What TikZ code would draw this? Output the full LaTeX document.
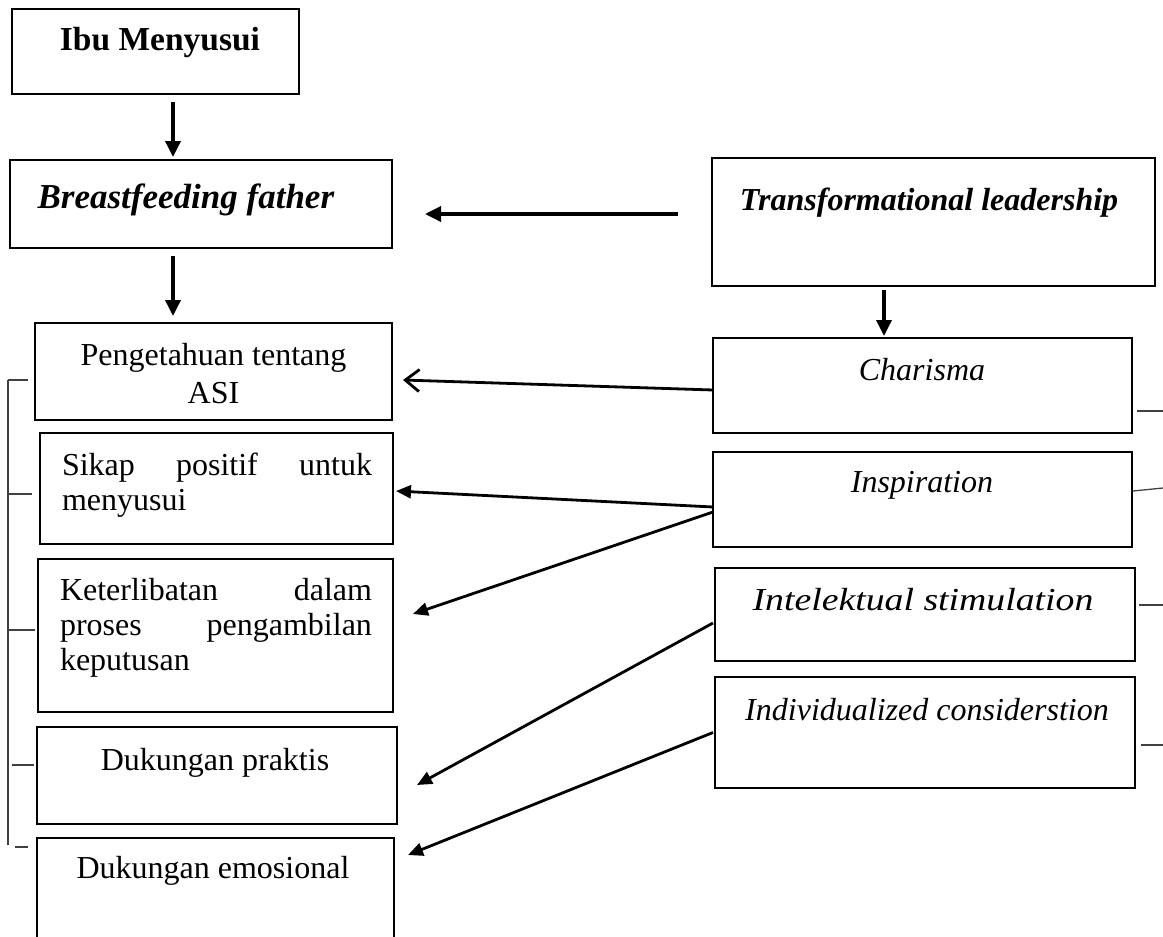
\documentclass[tikz,border=0pt]{standalone}
\usepackage{fontspec}
\setmainfont{Liberation Serif}
\usetikzlibrary{arrows.meta}
\begin{document}
\begin{tikzpicture}[x=1pt,y=-1pt,
  box/.style={draw=black, line width=2.8pt, anchor=north west, inner sep=0pt, outer sep=0pt, fill=none},
  txt/.style={inner sep=0pt, outer sep=0pt, font=\fontsize{32}{35}\selectfont},
  arr/.style={line width=3.5pt, -{Triangle[length=16pt,width=15pt]}},
  sarr/.style={line width=2.8pt, -{Triangle[length=15pt,width=13pt]}},
  oarr/.style={line width=2.8pt, -{Straight Barb[length=14pt,width=22pt,line width=2.8pt]}},
  tick/.style={line width=1.3pt, draw=black!75}]
\clip (0,0) rectangle (1163,937);
\fill[white] (0,0) rectangle (1163,937);
% boxes
\node[box, minimum width=287pt, minimum height=85pt] (ibu) at (12,9) {};
\node[box, minimum width=382pt, minimum height=88pt] (bf) at (10,160) {};
\node[box, minimum width=443pt, minimum height=128pt] (tl) at (712,158) {};
\node[box, minimum width=357pt, minimum height=97pt] (peng) at (35,323) {};
\node[box, minimum width=353pt, minimum height=111pt] (sikap) at (40,433) {};
\node[box, minimum width=355pt, minimum height=153pt] (ket) at (38,559) {};
\node[box, minimum width=360pt, minimum height=97pt] (prak) at (37,727) {};
\node[box, minimum width=357pt, minimum height=130pt] (emo) at (37,838) {};
\node[box, minimum width=419pt, minimum height=95pt] (cha) at (713,338) {};
\node[box, minimum width=419pt, minimum height=95pt] (ins) at (713,452) {};
\node[box, minimum width=420pt, minimum height=93pt] (int) at (715,568) {};
\node[box, minimum width=420pt, minimum height=111pt] (ind) at (715,677) {};
% texts
\node[txt, anchor=base, font=\fontsize{33.5}{36}\selectfont] (ibuT) at (160,50) {\textbf{Ibu Menyusui}};
\node[txt, anchor=base, font=\fontsize{35}{38}\selectfont] (bfT) at (186,208) {\textbf{\textit{Breastfeeding father}}};
\node[txt, anchor=base] (tlT) at (929,210) {\textbf{\textit{Transformational leadership}}};
\node[txt, anchor=base] (pengT) at (213.5,365) {Pengetahuan tentang};
\node[txt, anchor=base] (pengT2) at (213.5,403) {ASI};
\node[txt, anchor=base west, text width=310pt, align=left] (sikapT) at (62,475) {Sikap\hfill positif\hfill untuk\\menyusui};
\node[txt, anchor=base west, text width=312pt, align=left] (ketT) at (60,600) {Keterlibatan\hfill dalam\\proses\hfill pengambilan\\keputusan};
\node[txt, anchor=base] (prakT) at (215,770) {Dukungan praktis};
\node[txt, anchor=base] (emoT) at (213,878) {Dukungan emosional};
\node[txt, anchor=base] (chaT) at (922,380) {\textit{Charisma}};
\node[txt, anchor=base] (insT) at (922,492) {\textit{Inspiration}};
\node[txt, anchor=base] (intT) at (923,610) {\scalebox{1.18}[1]{\textit{Intelektual stimulation}}};
\node[txt, anchor=base] (indT) at (927,720) {\textit{Individualized considerstion}};
% connectors
\draw[arr] ([xshift=17.5pt,yshift=-8pt]ibu.south) -- ([xshift=-28pt,yshift=3pt]bf.north);
\draw[arr] ([xshift=-28pt,yshift=-8pt]bf.south) -- ([xshift=-40.5pt,yshift=7pt]peng.north);
\draw[arr] ([xshift=-34pt,yshift=8pt]tl.west) -- ([xshift=33pt,yshift=-10pt]bf.east);
\draw[arr] ([xshift=-49.5pt,yshift=-4pt]tl.south) -- ([xshift=-38.5pt,yshift=2pt]cha.north);
\draw[oarr] ([yshift=-4.5pt]cha.west) -- ([xshift=11pt,yshift=-8.5pt]peng.east);
\draw[sarr] ([yshift=-7.5pt]ins.west) -- ([xshift=3pt,yshift=-2.5pt]sikap.east);
\draw[sarr] ([yshift=-12.5pt]ins.west) -- ([xshift=20pt,yshift=21.5pt]ket.east);
\draw[sarr] ([xshift=-2pt,yshift=-8.5pt]int.west) -- ([xshift=20pt,yshift=-9.5pt]prak.east);
\draw[sarr] ([xshift=-2pt]ind.west) -- ([xshift=14pt,yshift=-17pt]emo.north east);
% left bracket
\draw[tick] (8,380) -- (8,845);
\draw[tick] (8,380) -- (28,380);
\draw[tick] (8,494) -- (32,494);
\draw[tick] (8,630) -- (35,630);
\draw[tick] (12,765) -- (34,765);
\draw[tick] (15,847) -- (28,847);
% right ticks
\draw[tick] (1137,411) -- (1163,411);
\draw[tick] (1133,491) -- (1163,488);
\draw[tick] (1139,605) -- (1163,605);
\draw[tick] (1141,745) -- (1163,745);
\end{tikzpicture}
\end{document}
